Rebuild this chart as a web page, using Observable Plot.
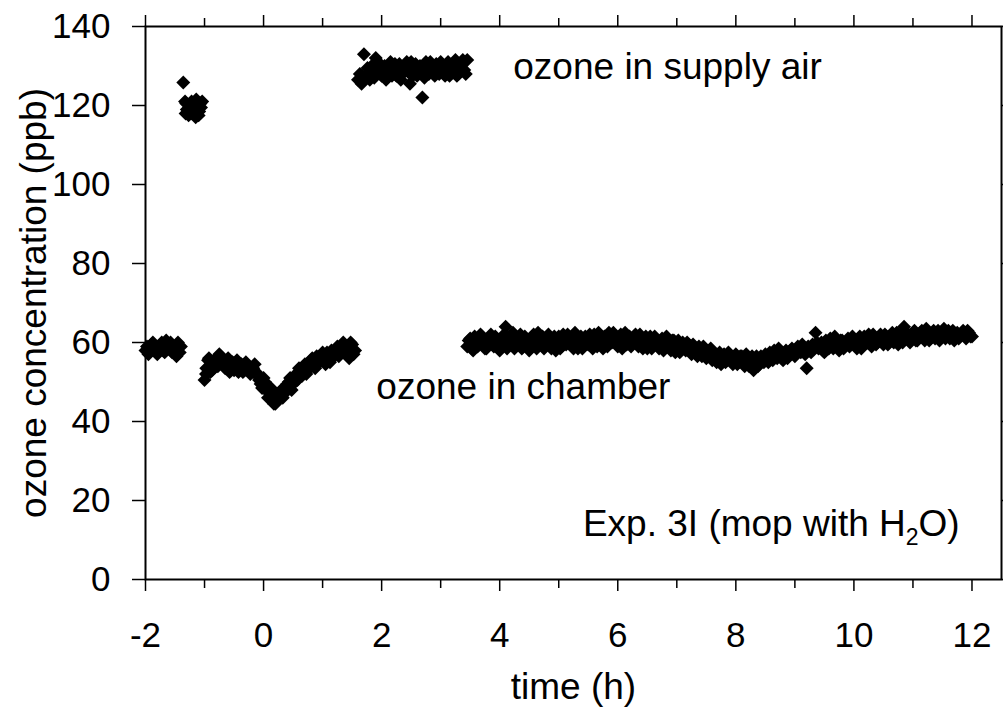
<!DOCTYPE html>
<html><head><meta charset="utf-8">
<script src="https://cdn.jsdelivr.net/npm/d3@7"></script>
<script src="https://cdn.jsdelivr.net/npm/@observablehq/plot@0.6"></script>
<style>body{margin:0;background:#fff} #chart svg{display:block}</style>
</head><body><div id="chart"></div>
<script>
// [time (h), ozone (ppb)]
const chamberA = [[-2.00,58.0],[-1.975,59.0],[-1.95,57.0],[-1.925,58.0],[-1.90,59.5],[-1.875,60.0],[-1.85,58.5],[-1.825,57.5],[-1.80,57.0],[-1.775,58.5],[-1.75,59.0],[-1.725,60.0],[-1.70,58.0],[-1.675,57.5],[-1.65,60.5],[-1.625,58.5],[-1.60,59.5],[-1.575,60.0],[-1.55,57.5],[-1.525,59.0],[-1.50,58.5],[-1.475,56.5],[-1.45,60.0],[-1.42,57.5],[-1.40,59.0]];
const supplyA = [[-1.36,125.8],[-1.33,121.0],[-1.32,118.0],[-1.31,120.5],[-1.30,119.0],[-1.27,117.5],[-1.26,119.0],[-1.24,120.0],[-1.22,121.0],[-1.21,118.0],[-1.18,119.5],[-1.17,118.0],[-1.15,117.0],[-1.14,121.5],[-1.12,120.5],[-1.10,117.5],[-1.09,118.5],[-1.07,120.5],[-1.06,119.5],[-1.04,121.0]];
const chamberB = [[-1.00,50.5],[-0.975,52.0],[-0.97,53.5],[-0.94,55.5],[-0.925,56.0],[-0.90,52.5],[-0.875,53.0],[-0.85,54.5],[-0.825,55.5],[-0.80,56.0],[-0.775,54.0],[-0.75,57.0],[-0.725,56.5],[-0.70,55.0],[-0.675,54.0],[-0.65,53.5],[-0.625,55.0],[-0.60,56.0],[-0.575,52.5],[-0.55,54.0],[-0.525,55.0],[-0.50,53.0],[-0.475,53.5],[-0.45,55.5],[-0.425,52.5],[-0.40,54.0],[-0.375,54.5],[-0.35,52.5],[-0.325,53.0],[-0.30,55.0],[-0.275,54.0],[-0.25,53.5],[-0.225,52.0],[-0.20,52.5],[-0.175,53.5],[-0.15,54.5],[-0.125,52.5],[-0.10,51.5],[-0.075,50.5],[-0.05,49.5],[-0.025,48.5],[0.00,51.0],[0.025,50.0],[0.05,48.5],[0.075,46.0],[0.10,47.0],[0.125,48.5],[0.15,45.5],[0.175,44.5],[0.20,44.5],[0.225,45.5],[0.25,46.5],[0.275,47.5],[0.30,48.0],[0.325,46.0],[0.35,47.0],[0.375,48.5],[0.40,49.5],[0.425,50.0],[0.45,51.0],[0.475,48.0],[0.50,49.5],[0.525,51.0],[0.55,52.0],[0.575,50.5],[0.60,53.5],[0.625,52.5],[0.65,51.5],[0.675,53.0],[0.70,54.5],[0.725,52.0],[0.75,53.0],[0.775,54.5],[0.80,55.5],[0.825,56.0],[0.85,54.0],[0.875,53.5],[0.90,56.5],[0.925,55.0],[0.95,55.0],[0.975,56.5],[1.00,57.5],[1.025,55.5],[1.05,54.5],[1.075,57.5],[1.10,56.0],[1.125,55.0],[1.15,58.0],[1.175,57.0],[1.20,56.5],[1.225,58.0],[1.25,59.0],[1.275,56.5],[1.30,57.5],[1.325,58.5],[1.35,60.0],[1.375,59.0],[1.40,58.5],[1.425,57.5],[1.45,56.0],[1.475,60.0],[1.50,59.5],[1.525,57.0],[1.55,58.0]];
const supplyB = [[1.60,126.5],[1.63,128.0],[1.66,125.5],[1.675,127.5],[1.70,133.0],[1.73,127.0],[1.76,129.5],[1.78,128.0],[1.80,126.5],[1.83,130.0],[1.85,128.5],[1.875,127.0],[1.90,132.0],[1.925,129.0],[1.95,129.5],[1.975,130.5],[2.00,127.5],[2.025,128.5],[2.05,130.0],[2.075,126.5],[2.10,128.5],[2.125,129.5],[2.15,131.0],[2.175,127.5],[2.20,129.0],[2.225,130.5],[2.25,127.5],[2.275,128.5],[2.30,130.5],[2.325,126.5],[2.35,128.0],[2.375,129.5],[2.40,130.0],[2.425,131.0],[2.45,128.5],[2.48,125.5],[2.50,131.0],[2.525,127.5],[2.55,129.0],[2.575,130.5],[2.60,127.5],[2.625,128.5],[2.65,130.0],[2.69,122.0],[2.70,129.0],[2.725,127.0],[2.75,131.0],[2.775,129.5],[2.80,128.0],[2.825,131.0],[2.85,130.0],[2.875,128.5],[2.90,127.5],[2.925,130.5],[2.95,129.5],[2.975,128.0],[3.00,131.0],[3.025,129.5],[3.05,128.5],[3.075,127.5],[3.10,130.0],[3.125,131.0],[3.15,127.5],[3.175,128.5],[3.20,129.5],[3.225,130.0],[3.25,131.5],[3.275,127.5],[3.30,128.0],[3.325,129.5],[3.35,130.5],[3.375,131.5],[3.40,129.0],[3.425,128.0],[3.45,131.5]];
const chamberC = [[3.45,59.0],[3.50,61.0],[3.55,58.0],[3.60,60.5],[3.65,59.5],[3.70,61.5],[3.75,58.5],[3.80,60.0],[3.85,62.0],[3.90,59.0],[3.95,60.5],[4.00,58.0],[4.05,61.0],[4.10,64.0],[4.15,59.5],[4.20,61.5],[4.25,58.5],[4.30,60.0],[4.35,62.0],[4.40,59.0],[4.45,60.5],[4.50,58.0],[4.55,61.5],[4.60,59.5],[4.65,62.5],[4.70,60.0],[4.75,58.5],[4.80,61.0],[4.85,59.5],[4.90,60.5],[4.95,58.0],[5.00,61.5],[5.05,59.0],[5.10,60.5],[5.15,62.0],[5.20,59.5],[5.25,58.5],[5.30,61.0],[5.35,60.0],[5.40,58.5],[5.45,61.5],[5.50,59.5],[5.55,60.5],[5.60,62.0],[5.65,59.0],[5.70,61.0],[5.75,58.5],[5.80,60.5],[5.85,62.5],[5.90,60.0],[5.95,61.5],[6.00,59.0],[6.05,62.0],[6.10,60.5],[6.15,59.5],[6.20,61.5],[6.25,60.0],[6.30,62.0],[6.35,59.0],[6.40,61.0],[6.45,60.0],[6.50,58.5],[6.55,61.5],[6.60,59.5],[6.65,60.5],[6.70,58.5],[6.75,61.0],[6.80,59.0],[6.85,60.0],[6.90,58.0],[6.95,60.5],[7.00,59.0],[7.05,57.5],[7.10,60.0],[7.15,58.0],[7.20,59.5],[7.25,57.0],[7.30,58.5],[7.35,56.5],[7.40,58.0],[7.45,59.0],[7.50,56.0],[7.55,57.5],[7.60,55.5],[7.65,57.0],[7.70,56.0],[7.75,54.5],[7.80,57.0],[7.85,55.5],[7.90,56.5],[7.95,54.5],[8.00,57.0],[8.05,55.0],[8.10,56.5],[8.15,54.0],[8.20,56.0],[8.25,55.0],[8.30,53.0],[8.35,56.5],[8.40,54.5],[8.45,55.5],[8.50,57.0],[8.55,55.0],[8.60,56.5],[8.65,58.0],[8.70,56.0],[8.75,57.5],[8.80,55.5],[8.85,58.0],[8.90,57.0],[8.95,58.5],[9.00,56.5],[9.05,59.0],[9.10,57.5],[9.15,58.5],[9.20,53.5],[9.25,58.0],[9.30,59.5],[9.35,62.5],[9.40,58.5],[9.45,60.0],[9.50,57.5],[9.55,59.5],[9.60,61.0],[9.65,58.5],[9.70,60.0],[9.75,58.0],[9.80,60.5],[9.85,59.0],[9.90,61.0],[9.95,59.5],[10.00,60.5],[10.05,58.5],[10.10,61.5],[10.15,59.5],[10.20,60.5],[10.25,62.0],[10.30,59.0],[10.35,61.0],[10.40,60.0],[10.45,62.0],[10.50,59.5],[10.55,61.5],[10.60,60.0],[10.65,62.5],[10.70,60.5],[10.75,59.5],[10.80,62.0],[10.85,64.0],[10.90,61.0],[10.95,60.0],[11.00,62.5],[11.05,60.5],[11.10,61.5],[11.15,63.0],[11.20,60.5],[11.25,62.0],[11.30,61.0],[11.35,63.0],[11.40,61.5],[11.45,60.5],[11.50,62.5],[11.55,61.0],[11.60,63.0],[11.65,62.0],[11.70,60.5],[11.75,62.5],[11.80,61.5],[11.85,63.0],[11.90,61.0],[11.95,62.5],[12.00,61.5]];
const chamberCExtra = [[3.475,60.5],[3.525,58.5],[3.575,61.5],[3.625,59.0],[3.675,62.0],[3.725,60.0],[3.775,58.5],[3.825,61.0],[3.875,59.5],[3.925,61.5],[3.975,59.0],[4.025,60.5],[4.075,62.0],[4.125,58.5],[4.175,60.5],[4.225,62.5],[4.275,59.5],[4.325,61.0],[4.375,58.5],[4.425,61.5],[4.475,60.0],[4.525,59.0],[4.575,62.0],[4.625,58.5],[4.675,60.5],[4.725,61.5],[4.775,59.5],[4.825,62.0],[4.875,58.5],[4.925,61.5],[4.975,60.0],[5.025,58.5],[5.075,62.0],[5.125,59.5],[5.175,61.0],[5.225,60.5],[5.275,62.5],[5.325,58.5],[5.375,61.5],[5.425,59.5],[5.475,60.5],[5.525,62.0],[5.575,58.5],[5.625,60.5],[5.675,62.5],[5.725,60.0],[5.775,61.5],[5.825,59.0],[5.875,61.0],[5.925,62.5],[5.975,60.0],[6.025,60.5],[6.075,58.5],[6.125,62.5],[6.175,61.0],[6.225,59.0],[6.275,61.5],[6.325,60.5],[6.375,62.0],[6.425,58.5],[6.475,61.5],[6.525,60.0],[6.575,58.5],[6.625,61.5],[6.675,59.5],[6.725,60.0],[6.775,58.0],[6.825,61.5],[6.875,59.5],[6.925,60.5],[6.975,57.5],[7.025,60.5],[7.075,58.5],[7.125,59.0],[7.175,60.0],[7.225,58.0],[7.275,59.5],[7.325,57.5],[7.375,59.0],[7.425,56.5],[7.475,58.0],[7.525,57.0],[7.575,58.5],[7.625,56.5],[7.675,55.0],[7.725,57.5],[7.775,56.5],[7.825,55.0],[7.875,57.5],[7.925,55.5],[7.975,56.0],[8.025,54.5],[8.075,56.5],[8.125,55.5],[8.175,57.0],[8.225,54.0],[8.275,56.5],[8.325,55.0],[8.375,54.0],[8.425,56.5],[8.475,55.0],[8.525,56.0],[8.575,57.5],[8.625,55.5],[8.675,57.0],[8.725,58.5],[8.775,56.0],[8.825,57.0],[8.875,56.0],[8.925,58.0],[8.975,57.5],[9.025,57.5],[9.075,58.5],[9.125,59.5],[9.175,57.0],[9.225,59.0],[9.275,57.5],[9.325,58.5],[9.375,60.0],[9.425,59.5],[9.475,58.0],[9.525,60.5],[9.575,58.5],[9.625,59.5],[9.675,61.5],[9.725,59.0],[9.775,60.5],[9.825,58.5],[9.875,60.0],[9.925,59.0],[9.975,61.5],[10.025,59.5],[10.075,60.0],[10.125,58.5],[10.175,61.5],[10.225,60.0],[10.275,60.5],[10.325,62.0],[10.375,59.5],[10.425,61.0],[10.475,60.5],[10.525,62.0],[10.575,59.5],[10.625,61.0],[10.675,60.0],[10.725,62.5],[10.775,61.0],[10.825,60.0],[10.875,62.5],[10.925,62.0],[10.975,61.0],[11.025,63.0],[11.075,60.5],[11.125,62.5],[11.175,61.5],[11.225,63.5],[11.275,60.5],[11.325,62.0],[11.375,61.0],[11.425,63.0],[11.475,61.5],[11.525,63.5],[11.575,62.0],[11.625,61.0],[11.675,63.0],[11.725,62.0],[11.775,61.0],[11.825,62.0],[11.875,62.5],[11.925,63.0],[11.975,61.5]];

const xTicks = [-2, 0, 2, 4, 6, 8, 10, 12];
const xMinorTicks = [-1, 1, 3, 5, 7, 9, 11];
const yTicks = [0, 20, 40, 60, 80, 100, 120, 140];
const notes = [
  {t: 4.23, v: 126.8, label: "ozone in supply air"},
  {t: 1.91, v: 45.8, label: "ozone in chamber"}
];
const expNote = {t: 5.41, v: 11.1, label: "Exp. 3I (mop with H2O)"};
const xTitle = "time (h)";
const yTitle = "ozone concentration (ppb)";

const points = [...chamberA, ...supplyA, ...chamberB, ...supplyB, ...chamberC, ...chamberCExtra].map(([t, v]) => ({t, v}));
const fmt = d => String(d);
const blank = () => "";
const FONT = "'Liberation Sans', Arial, Helvetica, sans-serif";

const chart = Plot.plot({
  width: 1003, height: 710,
  marginLeft: 145, marginRight: 2, marginTop: 26, marginBottom: 131,
  style: {fontFamily: FONT, fontSize: "35px", color: "black", background: "white"},
  x: {domain: [-2, 12.5]},
  y: {domain: [0, 140]},
  marks: [
    Plot.axisX({ticks: xTicks, tickSize: 12, tickPadding: 31, tickFormat: fmt, fontSize: 35, strokeWidth: 1.5, label: null}),
    Plot.axisX({ticks: xMinorTicks, tickSize: 9, tickFormat: blank, strokeWidth: 1.5, label: null}),
    Plot.axisX({anchor: "top", ticks: xTicks, tickSize: 12, tickFormat: blank, strokeWidth: 1.5, label: null}),
    Plot.axisX({anchor: "top", ticks: xMinorTicks, tickSize: 9, tickFormat: blank, strokeWidth: 1.5, label: null}),
    Plot.axisY({ticks: yTicks, tickSize: 13, tickPadding: 22, tickFormat: fmt, fontSize: 35, strokeWidth: 1.5, label: null}),
    Plot.axisY({anchor: "right", ticks: yTicks, tickSize: 13, tickFormat: blank, strokeWidth: 1.5, label: null}),
    Plot.frame({stroke: "black", strokeWidth: 2}),
    Plot.dot(points, {x: "t", y: "v", symbol: "diamond2", r: 6.3, fill: "black", stroke: "none"}),
    Plot.text(notes, {x: "t", y: "v", text: "label", textAnchor: "start", lineAnchor: "bottom", fontSize: 37}),
    Plot.text([expNote], {x: "t", y: "v", text: "label", textAnchor: "start", lineAnchor: "bottom", fontSize: 37}),
    Plot.text([xTitle], {frameAnchor: "bottom", dy: 119, text: d => d, textAnchor: "middle", lineAnchor: "bottom", fontSize: 37}),
    Plot.text([yTitle], {frameAnchor: "left", dx: -111, rotate: -90, text: d => d, textAnchor: "middle", lineAnchor: "middle", fontSize: 37})
  ]
});

// subscript "2" in H2O
for (const el of chart.querySelectorAll("text")) {
  if (el.textContent === expNote.label) {
    while (el.firstChild) el.removeChild(el.firstChild);
    const ns = "http://www.w3.org/2000/svg";
    const parts = [["Exp. 3I (mop with H", null, null], ["2", "23px", "9"], ["O)", null, "-9"]];
    for (const [s, fs, dy] of parts) {
      const ts = document.createElementNS(ns, "tspan");
      ts.textContent = s;
      if (fs) ts.setAttribute("font-size", fs);
      if (dy) ts.setAttribute("dy", dy);
      el.appendChild(ts);
    }
  }
}
document.getElementById("chart").appendChild(chart);
</script></body></html>
